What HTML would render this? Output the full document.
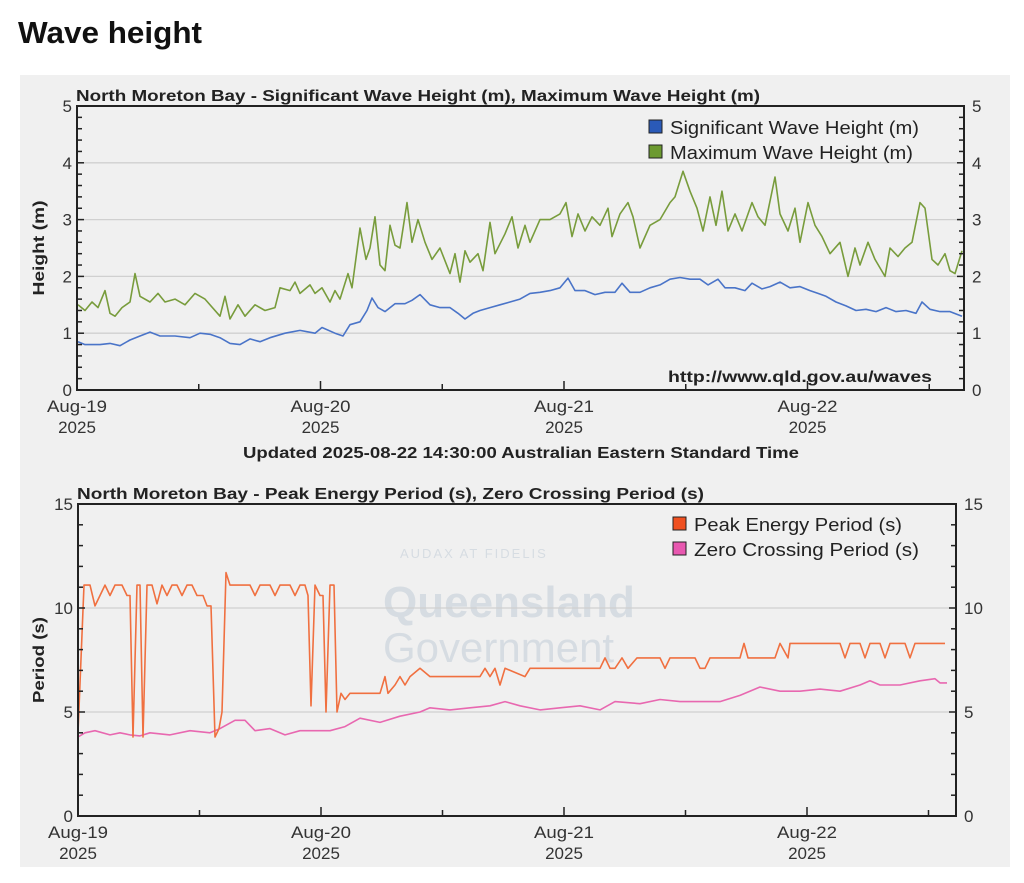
<!DOCTYPE html>
<html><head><meta charset="utf-8"><style>
html,body{margin:0;padding:0;background:#fff;width:1024px;height:883px;overflow:hidden}
svg{display:block;font-family:"Liberation Sans",sans-serif}
</style></head><body>
<svg id="s" width="1024" height="883" viewBox="0 0 1024 883" xmlns="http://www.w3.org/2000/svg">
<text x="18" y="43" font-size="31" font-weight="bold" fill="#111" textLength="184" lengthAdjust="spacingAndGlyphs">Wave height</text>
<rect x="20" y="75" width="990" height="792" fill="#f0f0f0"/>
<text x="383" y="617" font-size="44" font-weight="bold" fill="#d6dce2">Queensland</text>
<text x="383" y="662" font-size="42" fill="#d6dce2">Government</text>
<text x="400" y="558" font-size="13" fill="#d6dce2" letter-spacing="2">AUDAX AT FIDELIS</text>
<g id="top"></g>
<g id="bot"></g>
<text x="243" y="458" font-size="16" font-weight="bold" fill="#222" textLength="556" lengthAdjust="spacingAndGlyphs">Updated 2025-08-22 14:30:00 Australian Eastern Standard Time</text>
</svg>
<script>
const NS="http://www.w3.org/2000/svg";
function el(p,t,a,txt){const e=document.createElementNS(NS,t);for(const k in a)e.setAttribute(k,a[k]);if(txt!==undefined)e.textContent=txt;p.appendChild(e);return e;}
function chart(g,o){
 const {L,R,T,B,max,step,minor,title,ylab,series,legend,legX,legY}=o;
 const sy=v=>B-(v/max)*(B-T);
 for(let v=step;v<max;v+=step) el(g,'line',{x1:L,x2:R,y1:sy(v),y2:sy(v),stroke:'#d0d0d0','stroke-width':1.3});
 series.forEach(s=>{
  const pts=[];for(let i=0;i<s.d.length;i+=2)pts.push(s.d[i]+','+sy(s.d[i+1]).toFixed(1));
  el(g,'polyline',{points:pts.join(' '),fill:'none',stroke:s.c,'stroke-width':1.6,'stroke-linejoin':'round'});
 });
 el(g,'path',{d:`M${L},${T}H${R}V${B}H${L}Z`,fill:'none',stroke:'#222','stroke-width':2});
 for(let v=0;v<=max+1e-6;v+=minor){const y=sy(v),big=Math.abs(v/step-Math.round(v/step))<1e-6,len=big?7:5;
  el(g,'line',{x1:L,x2:L+len,y1:y,y2:y,stroke:'#222','stroke-width':1.5});
  el(g,'line',{x1:R,x2:R-len,y1:y,y2:y,stroke:'#222','stroke-width':1.5});
  if(big){el(g,'text',{x:L-5,y:y+6,'font-size':17,'text-anchor':'end',fill:'#333'},Math.round(v));
   el(g,'text',{x:R+8,y:y+6,'font-size':17,fill:'#333'},Math.round(v));}}
 const days=[[o.x0,'Aug-19'],[o.x0+o.dx,'Aug-20'],[o.x0+2*o.dx,'Aug-21'],[o.x0+3*o.dx,'Aug-22']];
 days.forEach(([x,l],i)=>{el(g,'line',{x1:x,x2:x,y1:B,y2:B-9,stroke:'#222','stroke-width':1.5});
  el(g,'line',{x1:x+o.dx/2,x2:x+o.dx/2,y1:B,y2:B-6,stroke:'#222','stroke-width':1.5});
  el(g,'text',{x:x-30,y:B+22,'font-size':17,fill:'#333',textLength:60,lengthAdjust:'spacingAndGlyphs'},l);
  el(g,'text',{x:x,y:B+43,'font-size':17,'text-anchor':'middle',fill:'#333'},'2025');});
 el(g,'text',{x:L-1,y:T-5,'font-size':16,'font-weight':'bold',fill:'#222',textLength:o.tl,lengthAdjust:'spacingAndGlyphs'},title);
 el(g,'text',{x:0,y:0,'font-size':16,'font-weight':'bold',fill:'#222','text-anchor':'middle',textLength:o.yl,lengthAdjust:'spacingAndGlyphs',transform:`translate(${o.ylx},${(T+B)/2}) rotate(-90)`},ylab);
 legend.forEach((s,i)=>{const y=legY+i*25;
  el(g,'rect',{x:legX,y:y-12,width:13,height:13,fill:s.c,stroke:'#222','stroke-width':1});
  el(g,'text',{x:legX+21,y:y+2,'font-size':18,fill:'#222',textLength:s.w,lengthAdjust:'spacingAndGlyphs'},s.n);});
}
const sig=[78,.85,85,.8,100,.8,110,.82,120,.78,130,.88,140,.95,150,1.02,160,.95,175,.95,190,.92,200,1.0,210,.98,220,.92,230,.82,240,.8,250,.9,260,.85,270,.92,285,1.0,300,1.05,315,1.0,322,1.1,335,1.0,343,.95,350,1.15,360,1.2,367,1.4,372,1.62,378,1.45,385,1.38,395,1.52,405,1.52,412,1.58,420,1.68,430,1.5,440,1.45,450,1.45,458,1.35,465,1.25,473,1.35,480,1.4,490,1.45,500,1.5,510,1.55,520,1.6,530,1.7,540,1.72,550,1.75,560,1.8,568,1.97,575,1.75,585,1.75,595,1.68,605,1.72,615,1.72,622,1.88,630,1.72,640,1.72,650,1.8,660,1.85,670,1.95,680,1.98,690,1.95,700,1.95,708,1.85,718,1.95,725,1.8,735,1.8,745,1.75,752,1.88,762,1.78,770,1.82,780,1.9,790,1.8,800,1.82,810,1.75,818,1.7,826,1.65,836,1.55,846,1.48,856,1.4,866,1.42,876,1.38,886,1.45,896,1.38,906,1.4,916,1.35,922,1.55,930,1.42,940,1.38,950,1.38,962,1.3];
const mx=[78,1.5,85,1.4,92,1.55,98,1.45,105,1.75,110,1.35,115,1.3,122,1.45,130,1.55,135,2.05,140,1.65,150,1.55,158,1.7,165,1.55,175,1.6,185,1.5,195,1.7,205,1.6,220,1.3,225,1.65,230,1.25,238,1.5,245,1.3,255,1.5,265,1.4,275,1.45,280,1.8,290,1.75,295,1.9,300,1.7,310,1.85,315,1.7,322,1.8,330,1.55,335,1.75,340,1.6,348,2.05,352,1.8,360,2.85,366,2.3,370,2.5,375,3.05,380,2.2,385,2.1,390,2.9,395,2.55,400,2.5,407,3.3,412,2.6,418,3.0,425,2.6,432,2.3,440,2.5,450,2.05,455,2.4,460,1.9,465,2.45,470,2.25,478,2.4,483,2.1,490,2.95,495,2.4,505,2.75,512,3.05,518,2.5,525,2.9,530,2.6,540,3.0,550,3.0,560,3.1,566,3.3,572,2.7,578,3.1,585,2.8,592,3.05,600,2.9,608,3.2,612,2.7,620,3.1,628,3.3,633,3.05,640,2.5,650,2.9,660,3.0,670,3.3,675,3.4,683,3.85,690,3.5,697,3.2,703,2.8,710,3.4,716,2.9,722,3.5,728,2.8,735,3.1,742,2.8,752,3.3,758,3.05,765,2.9,775,3.75,780,3.1,788,2.8,795,3.2,800,2.6,808,3.3,815,2.9,822,2.7,830,2.4,840,2.6,848,2.0,855,2.5,860,2.2,868,2.6,875,2.3,885,2.0,890,2.5,898,2.35,905,2.5,912,2.6,920,3.3,925,3.2,932,2.3,938,2.2,945,2.4,950,2.1,955,2.05,962,2.45];
const pk=[78,4,84,11.1,90,11.1,95,10.1,100,10.6,105,11.1,110,10.6,115,11.1,122,11.1,127,10.6,130,10.6,133,3.8,137,11.1,140,11.1,143,3.8,147,11.1,152,11.1,157,10.2,162,11.1,167,10.6,172,11.1,177,11.1,182,10.6,187,11.1,192,11.1,197,10.6,203,10.6,207,10.1,211,10.1,215,3.8,219,4.2,222,5,226,11.7,230,11.1,250,11.1,255,10.6,260,11.1,270,11.1,275,10.6,280,11.1,290,11.1,295,10.6,300,11.1,305,11.1,308,10.6,311,5.3,315,11.1,320,10.6,323,10.6,326,5,330,11.1,334,11.1,337,5,341,5.9,345,5.6,350,5.9,380,5.9,385,6.7,388,5.9,395,6.3,400,6.7,405,6.3,410,6.7,420,7.1,430,6.7,480,6.7,485,7.1,490,6.7,495,7.1,500,6.3,505,7.1,525,6.7,530,7.1,560,7.1,600,7.1,605,7.6,610,7.1,615,7.1,622,7.6,628,7.1,637,7.6,660,7.6,665,7.1,670,7.6,695,7.6,700,7.1,705,7.1,710,7.6,740,7.6,744,8.3,748,7.6,775,7.6,780,8.3,788,7.6,790,8.3,840,8.3,845,7.6,850,8.3,860,8.3,865,7.6,870,8.3,880,8.3,885,7.6,890,8.3,905,8.3,910,7.6,915,8.3,945,8.3];
const zc=[78,3.8,85,4.0,95,4.1,110,3.9,120,4.0,130,3.9,140,3.85,150,4.0,170,3.9,190,4.1,210,4.0,220,4.2,235,4.6,245,4.6,255,4.1,270,4.2,285,3.9,300,4.1,320,4.1,330,4.1,345,4.3,360,4.7,380,4.5,400,4.8,420,5.0,430,5.2,450,5.1,470,5.2,490,5.3,505,5.5,520,5.3,540,5.1,560,5.2,580,5.3,600,5.1,615,5.5,640,5.4,660,5.6,680,5.5,700,5.5,720,5.5,740,5.8,760,6.2,780,6.0,800,6.0,820,6.1,840,6.0,860,6.3,870,6.5,880,6.3,900,6.3,920,6.5,935,6.6,940,6.4,947,6.4];
const G='#789c3c',Bl='#4a74c8',O='#f07040',P='#e868b0';
chart(document.getElementById('top'),{L:77,R:964,T:106,B:390,max:5,step:1,minor:0.2,x0:77,dx:243.5,ylx:44,tl:684,yl:95,
 title:'North Moreton Bay - Significant Wave Height (m), Maximum Wave Height (m)',ylab:'Height (m)',
 series:[{c:G,d:mx},{c:Bl,d:sig}],legend:[{c:'#2a5ab8',n:'Significant Wave Height (m)',w:249},{c:'#6c9a30',n:'Maximum Wave Height (m)',w:243}],legX:649,legY:132});
chart(document.getElementById('bot'),{L:78,R:956,T:504,B:816,max:15,step:5,minor:1,x0:78,dx:243,ylx:44,tl:627,yl:86,
 title:'North Moreton Bay - Peak Energy Period (s), Zero Crossing Period (s)',ylab:'Period (s)',
 series:[{c:P,d:zc},{c:O,d:pk}],legend:[{c:'#f05020',n:'Peak Energy Period (s)',w:208},{c:'#e858b0',n:'Zero Crossing Period (s)',w:225}],legX:673,legY:529});
const t=document.getElementById('top');
el(t,'text',{x:668,y:382,'font-size':16,'font-weight':'bold',fill:'#222',textLength:264,lengthAdjust:'spacingAndGlyphs'},'http://www.qld.gov.au/waves');
</script>
</body></html>
